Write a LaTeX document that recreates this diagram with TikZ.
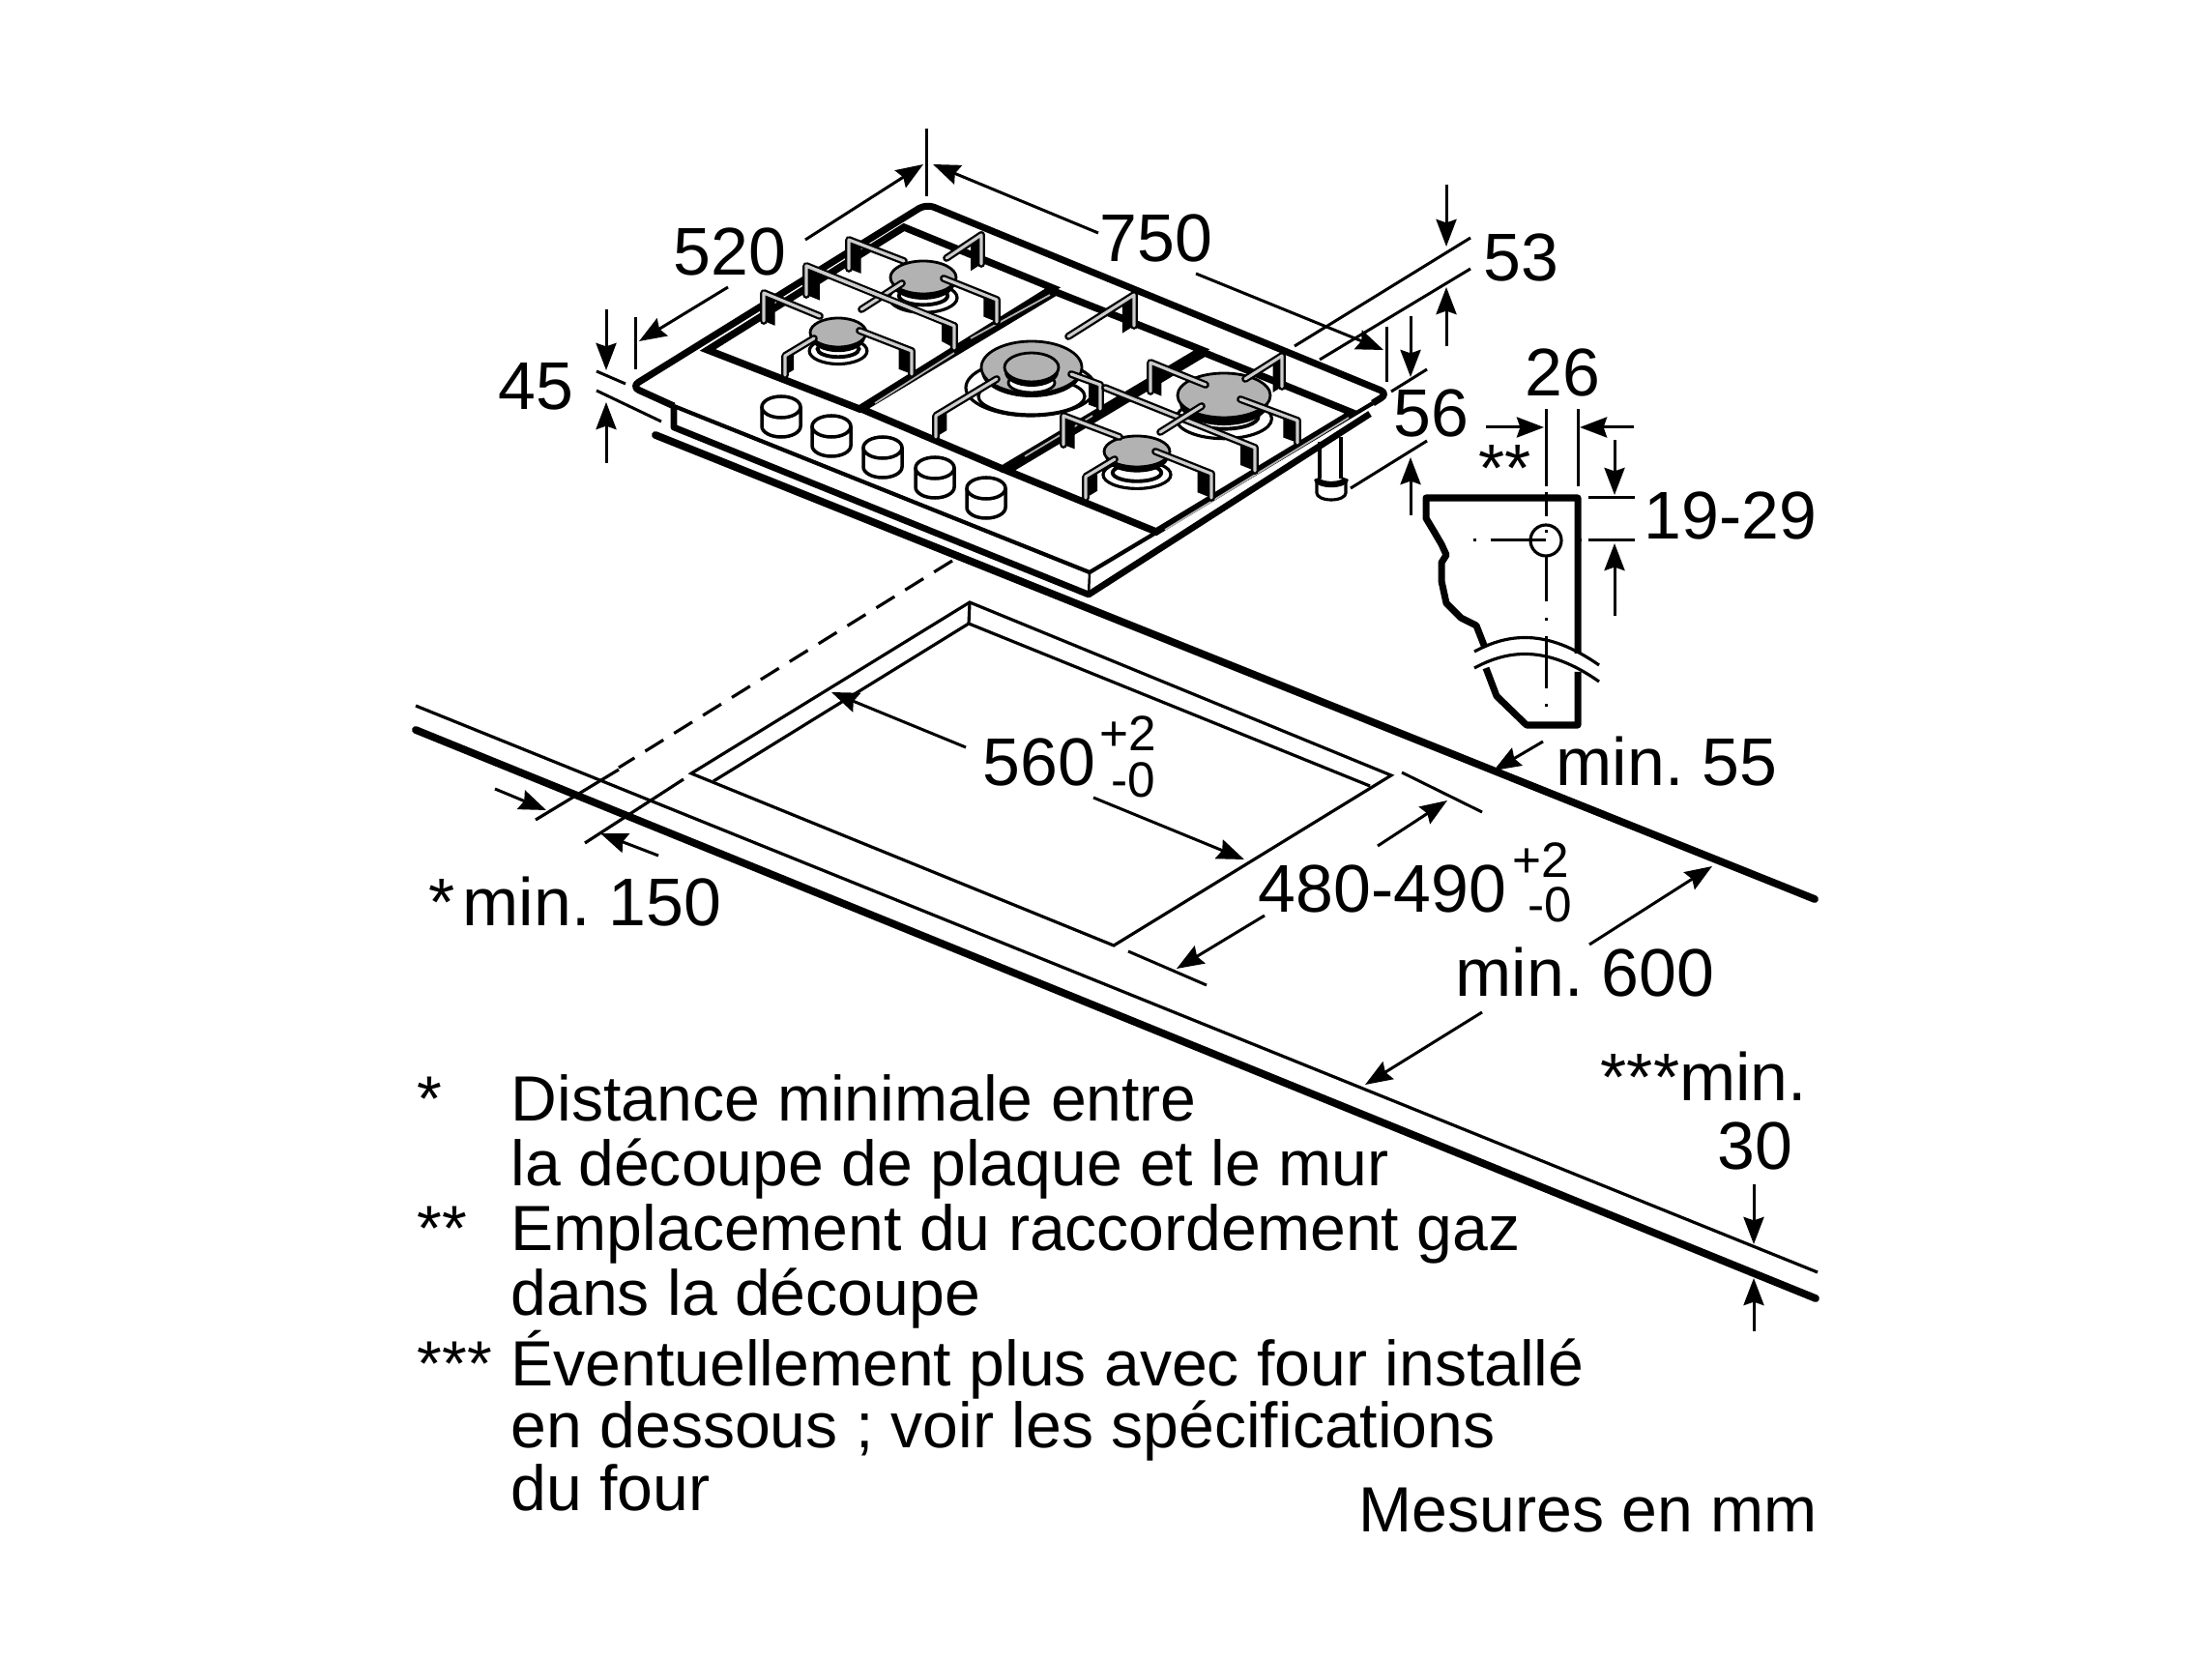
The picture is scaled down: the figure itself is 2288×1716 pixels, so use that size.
\documentclass[tikz,border=0pt]{standalone}
\usepackage{fontspec}
\setmainfont{Liberation Sans}
\usetikzlibrary{arrows.meta,calc}
\frenchspacing

\tikzset{
  lbl/.style={anchor=base west,inner sep=0pt,font=\fontsize{19.85}{22}\selectfont},
  note/.style={anchor=base west,inner sep=0pt,font=\fontsize{18.8}{22}\selectfont},
  tol/.style={anchor=base west,inner sep=0pt,font=\fontsize{14.6}{16}\selectfont},
  thinline/.style={line width=0.9pt},
  dimline/.style={line width=0.85pt},
  heavy/.style={line width=2.2pt,line cap=round},
  frameline/.style={line width=2.1pt,line join=miter},
  sliver/.style={line width=0.5pt,gray!60},
  rodout/.style={line width=2.2pt,line cap=round,line join=round},
  rodin/.style={line width=0.9pt,gray!40,line cap=round,line join=round},
  centerline/.style={line width=0.85pt}
}

% cap with two rings under it: x, y, rx, ry, drop of the rings
\newcommand{\burner}[5]{
  \filldraw[fill=white,line width=0.9pt] (#1,#2+#5) ellipse ({1.03*#3} and {0.9*#4});
  \filldraw[fill=white,line width=1.1pt] (#1,#2+#5-2) ellipse ({0.74*#3} and {0.55*#4});
  \fill (#1,#2+0.35*#4) ellipse ({0.96*#3} and {1.0*#4});
  \filldraw[fill=gray!60,line width=0.8pt] (#1,#2) ellipse (#3 and #4);
}
% bar of the pan support with its leg: free end, bend, share of the bar in black, height of the leg
\newcommand{\rodleg}[4]{
  \fill (#2) -- ($(#2)!#3!(#1)$) -- ++(0,#4) -- ($(#2)+(0,#4)$) -- cycle;
  \draw[rodout] (#1) -- (#2) -- ++(0,#4);
  \draw[rodin] (#1) -- (#2) -- ++(0,#4);
}
\newcommand{\knob}[2]{
  \draw[line width=1pt,fill=white] (#1-20,#2) -- (#1-20,#2+20) arc (180:0:20 and 11) -- (#1+20,#2);
  \filldraw[line width=1pt,fill=white] (#1,#2) ellipse (20 and 11);
}

\begin{document}
\begin{tikzpicture}[x=0.01cm,y=-0.01cm,>={Stealth[length=8pt,width=6pt,inset=1pt]}]
    \useasboundingbox (0,0) rectangle (2288,1716);

    % worktop
    \draw[heavy] (678,450) -- (1877,930);
    \draw[thinline] (430,730) -- (1880,1316);
    \draw[heavy] (430,755) -- (1878,1343);

    % cut-out
    \draw[thinline,line join=miter] (1003,623) -- (715,800) -- (1152,978) -- (1439,802) -- cycle;
    \draw[thinline] (738,808) -- (1002,645) -- (1417,813);
    \draw[thinline] (1003,623) -- (1002,645);
    \draw[thinline,dash pattern=on 6.3pt off 3.7pt] (985,580) -- (640,794);
    \draw[thinline] (640,796) -- (554,848);
    \draw[thinline] (707,806) -- (605,872);

    % hob body
    \draw[line width=2pt,line join=round,rounded corners=2.5pt] (697,420) -- (653,400) -- (958,211) -- (1436,407) -- (1420,417);
    \draw[line width=1.2pt] (697,420) -- (1127,592) -- (1420,417);
    \draw[line width=1.9pt,line join=round] (1417,428) -- (1126,615) -- (697,442) -- (697,420);
    \draw[line width=0.7pt] (1127,592) -- (1126,615);

    % grates
    \draw[frameline] (732,362) -- (935,235) -- (1089,298) -- (889,423) -- cycle;
    \draw[frameline] (1092,302) -- (1243,362) -- (1037,485) -- (891,423) -- cycle;
    \draw[frameline] (1246,365) -- (1399,427) -- (1196,550) -- (1042,487) -- cycle;
    \draw[sliver] (1004,350) -- (1086,305);
    \draw[sliver] (905,417) -- (987,365);
    \draw[sliver] (1060,472) -- (1130,430);
    \draw[sliver] (1205,548) -- (1395,432);

    % burners
    \burner{955}{287}{34}{17}{21}
    \burner{867}{344}{29}{15}{19}
    \burner{1266}{409}{48}{23}{24}
    \burner{1176}{467}{34}{16}{24}
    \draw[line width=0.9pt] (1066,401) ellipse (67 and 29);
    \filldraw[fill=white,line width=0.9pt] (1067,410) ellipse (55 and 19);
    \fill (1067,384) ellipse (52 and 27);
    \filldraw[fill=gray!60,line width=0.8pt] (1067,380) ellipse (52 and 27);
    \filldraw[fill=white,line width=0.8pt] (1067,396) ellipse (24 and 10);
    \fill (1067,385) ellipse (28 and 15);
    \filldraw[fill=gray!60,line width=0.8pt] (1067,380) ellipse (28 and 15);

    % bars of the pan supports
    \rodleg{935,270}{878,248}{0.22}{30}
    \rodleg{979,267}{1015,243}{0.3}{30}
    \rodleg{976,288}{1031,310}{0.25}{23}
    \rodleg{933,293}{891,320}{0}{0}
    \rodleg{987,337}{834,275}{0.09}{30}
    \draw[rodout] (987,337) -- (987,360);
    \fill (987,337) -- (974,330) -- (974,353) -- (987,360) -- cycle;
    \draw[rodin] (834,275) -- (987,337) -- (987,360);
    \rodleg{848,327}{790,303}{0.2}{29}
    \rodleg{842,350}{812,368}{0.3}{20}
    \rodleg{889,342}{943,363}{0.25}{24}
    \rodleg{1105,348}{1173,305}{0.18}{32}
    \rodleg{1108,387}{1138,398}{0.4}{25}
    \rodleg{1031,392}{968,430}{0.18}{22}
    \draw[rodout] (1143,401) -- (1298,463) -- (1298,487);
    \fill (1298,463) -- (1283,457) -- (1283,481) -- (1298,487) -- cycle;
    \draw[rodin] (1143,401) -- (1298,463) -- (1298,487);
    \rodleg{1247,398}{1190,375}{0.2}{30}
    \rodleg{1288,392}{1326,368}{0.25}{32}
    \rodleg{1283,413}{1342,435}{0.25}{23}
    \rodleg{1243,420}{1200,447}{0}{0}
    \rodleg{1158,452}{1100,430}{0.2}{30}
    \rodleg{1195,467}{1253,490}{0.25}{25}
    \rodleg{1153,475}{1123,493}{0.4}{22}

    % knobs
    \knob{808}{421}
    \knob{860}{441}
    \knob{913}{463}
    \knob{967}{484}
    \knob{1020}{505}

    % gas pipe
    \draw[line width=0.9pt] (1365,457) -- (1365,495);
    \draw[line width=0.9pt] (1387,452) -- (1387,495);
    \draw[line width=1.8pt] (1362,495) arc (180:0:15 and 6);
    \draw[line width=0.9pt] (1362,495) -- (1362,510) arc (180:0:15 and 7) -- (1392,495);

    % overall width and depth
    \draw[dimline] (958,133) -- (958,203);
    \draw[dimline] (657,328) -- (657,382);
    \draw[dimline] (1434,338) -- (1434,395);
    \draw[dimline,->] (833,248) -- (955,170);
    \draw[dimline,->] (753,297) -- (661,353);
    \draw[dimline,->] (1136,241) -- (965,170);
    \draw[dimline,->] (1237,283) -- (1431,362);
    \node[lbl] (depthLbl) at (696,285) {520};
    \node[lbl] (widthLbl) at (1137,271) {750};

    % 45
    \draw[dimline] (617,384) -- (647,397);
    \draw[dimline] (617,404) -- (684,436);
    \draw[dimline,->] (627,320) -- (627,383);
    \draw[dimline,->] (627,479) -- (627,416);
    \node[lbl] (frontLbl) at (515,424) {45};

    % 53
    \draw[dimline] (1339,358) -- (1521,246);
    \draw[dimline] (1365,372) -- (1521,278);
    \draw[dimline,->] (1496,191) -- (1496,255);
    \draw[dimline,->] (1496,358) -- (1496,297);
    \node[lbl] (backLbl) at (1534,291) {53};

    % 56
    \draw[dimline] (1439,405) -- (1476,382);
    \draw[dimline] (1397,505) -- (1476,456);
    \draw[dimline,->] (1459,327) -- (1459,390);
    \draw[dimline,->] (1459,533) -- (1459,473);
    \node[lbl] (sideLbl) at (1441,452) {56};

    % section through the cut-out
    \draw[line width=2pt,line join=round] (1536,670) -- (1527,647) -- (1511,639) -- (1496,624) -- (1491,601) -- (1491,582) -- (1496,574) -- (1491,563) -- (1484,551) -- (1475,536) -- (1475,515) -- (1632,515) -- (1632,676);
    \draw[line width=2pt,line join=round] (1537,691) -- (1548,720) -- (1579,750) -- (1632,750) -- (1632,695);
    \draw[thinline] (1525,674) .. controls (1560,655) and (1600,650) .. (1654,688);
    \draw[thinline] (1525,691) .. controls (1560,672) and (1600,667) .. (1654,705);
    \draw[thinline] (1599,559) circle (16);
    \draw[centerline] (1599,509) -- (1599,534);
    \draw[centerline] (1599,548) -- (1599,551);
    \draw[centerline] (1599,574) -- (1599,622);
    \draw[centerline] (1599,639) -- (1599,642);
    \draw[centerline] (1599,658) -- (1599,712);
    \draw[centerline] (1599,728) -- (1599,731);
    \draw[centerline] (1524,559) -- (1527,559);
    \draw[centerline] (1542,559) -- (1599,559);
    \draw[centerline] (1631,559) -- (1636,559);

    % 26
    \draw[dimline] (1599,423) -- (1599,503);
    \draw[dimline] (1632,423) -- (1632,503);
    \draw[dimline,->] (1537,442) -- (1597,442);
    \draw[dimline,->] (1690,442) -- (1634,442);
    \node[lbl] (pipeLbl) at (1577,410) {26};
    \node[lbl] (starTwoLbl) at (1529,509) {**};

    % 19-29
    \draw[dimline] (1643,515) -- (1691,515);
    \draw[dimline] (1643,559) -- (1691,559);
    \draw[dimline,->] (1670,455) -- (1670,512);
    \draw[dimline,->] (1670,637) -- (1670,562);
    \node[lbl] (heightLbl) at (1700,558) {19-29};

    % min. 55
    \draw[dimline,->] (1596,767) -- (1545,797);
    \node[lbl] (backGapLbl) at (1609,813) {min. 55};

    % min. 150
    \draw[dimline,->] (512,816) -- (565,838);
    \draw[dimline,->] (681,885) -- (621,862);
    \node[lbl] (wallStarLbl) at (443,957) {*};
    \node[lbl] (wallLbl) at (478,957) {min. 150};

    % 560
    \draw[dimline,->] (999,773) -- (860,716);
    \draw[dimline,->] (1131,825) -- (1287,889);
    \node[lbl] (cutWidthLbl) at (1016,813) {560};
    \node[tol] (cutWidthUp) at (1137,777) {+2};
    \node[tol] (cutWidthDown) at (1149,825) {-0};

    % 480-490
    \draw[dimline] (1450,799) -- (1533,840);
    \draw[dimline] (1167,984) -- (1248,1019);
    \draw[dimline,->] (1425,875) -- (1497,828);
    \draw[dimline,->] (1308,947) -- (1217,1002);
    \node[lbl] (cutDepthLbl) at (1301,943) {480-490};
    \node[tol] (cutDepthUp) at (1564,907) {+2};
    \node[tol] (cutDepthDown) at (1580,953) {-0};

    % min. 600
    \draw[dimline,->] (1644,977) -- (1771,896);
    \draw[dimline,->] (1533,1047) -- (1412,1122);
    \node[lbl] (worktopLbl) at (1505,1030) {min. 600};

    % min. 30
    \draw[dimline,->] (1814,1225) -- (1814,1287);
    \draw[dimline,->] (1814,1377) -- (1814,1322);
    \node[lbl] (underLbl) at (1655,1138) {***min.};
    \node[lbl] (underValLbl) at (1776,1209) {30};

    % notes
    \node[note] (noteAstar) at (431,1159) {*};
    \node[note] (noteAone) at (528,1159) {Distance minimale entre};
    \node[note] (noteAtwo) at (528,1226) {la découpe de plaque et le mur};
    \node[note] (noteBstar) at (431,1293) {**};
    \node[note] (noteBone) at (528,1293) {Emplacement du raccordement gaz};
    \node[note] (noteBtwo) at (528,1360) {dans la découpe};
    \node[note] (noteCstar) at (431,1433) {***};
    \node[note] (noteCone) at (528,1433) {Éventuellement plus avec four installé};
    \node[note] (noteCtwo) at (528,1497) {en dessous ; voir les spécifications};
    \node[note] (noteCthree) at (528,1562) {du four};
    \node[note] (unitLbl) at (1405,1584) {Mesures en mm};
\end{tikzpicture}
\end{document}
